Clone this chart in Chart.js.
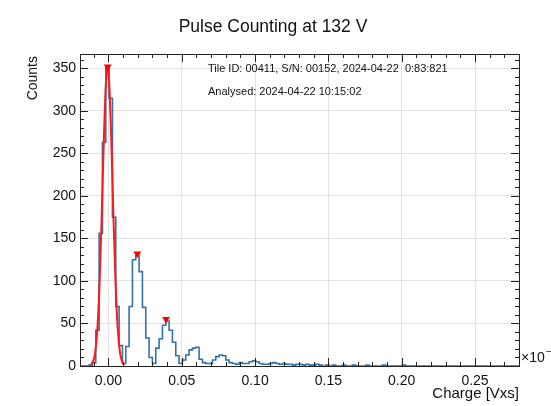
<!DOCTYPE html>
<html><head><meta charset="utf-8">
<script src="https://cdn.jsdelivr.net/npm/chart.js@4.4.1/dist/chart.umd.min.js"></script>
<style>html,body{margin:0;padding:0;background:#fff;overflow:hidden}canvas{display:block}</style>
</head><body>
<canvas id="c" width="551" height="406"></canvas>
<script>
// ---- data ----
const binLow = -0.02;          // left edge of first bin
const binWidth = 0.0022727;    // bin width
const counts = [
  0, 0, 0, 1, 4, 42, 156, 263, 352, 315,
  175, 70, 24, 3, 23, 70, 125, 130, 111, 69,
  33, 10, 3, 21, 32, 48, 53, 42, 28, 12,
  3, 7, 13, 19, 21, 22, 8, 4, 3, 3,
  7, 11, 13, 12, 7, 4, 3, 2, 4, 3,
  3, 5, 6, 5, 3, 2, 2, 3, 4, 3,
  2, 3, 2, 2, 1, 2, 2, 1, 2, 1,
  1, 2, 1, 0, 1, 0, 1, 0, 0, 1,
  0, 0, 1, 0, 0, 0, 1, 0, 0, 0,
  0, 1, 0, 0, 0, 0, 0, 1, 0, 0,
  0, 0, 0, 0, 0, 0, 0, 0, 0, 0,
  0, 0, 0, 0, 0, 0, 0, 0, 0, 0,
  0, 0, 0, 0, 0, 0, 0, 0, 0, 0,
  0, 0
];
const fitX = [-0.0120, -0.0105, -0.0090, -0.0075, -0.0060, -0.0045, -0.0030, -0.0017, -0.0006,
              0.0005, 0.0018, 0.0033, 0.0048, 0.0063, 0.0078, 0.0093, 0.0108];
const fitY = [1.3, 5.1, 16.7, 44.8, 100, 182, 274, 334, 352,
              334, 274, 182, 100, 44.8, 16.7, 5.1, 1.3];
const peakX = [-0.0005, 0.0197, 0.0393];
const peakY = [352, 132, 55];
const xTicks = [0.00, 0.05, 0.10, 0.15, 0.20, 0.25];
const yTicks = [0, 50, 100, 150, 200, 250, 300, 350];
const xRange = [-0.0194, 0.2800];
const yRange = [0, 367];
const xMinorStep = 0.01;
const yMinorStep = 10;
const titleText = 'Pulse Counting at 132 V';
const infoLines = ['Tile ID: 00411, S/N: 00152, 2024-04-22  0:83:821', 'Analysed: 2024-04-22 10:15:02'];
const xTitle = 'Charge [Vxs]';
const yTitle = 'Counts';

// ---- build datasets ----
const histPts = counts.map((c, i) => ({x: binLow + i * binWidth, y: c}));
histPts.push({x: binLow + counts.length * binWidth, y: counts[counts.length - 1]});
const fitPts = fitX.map((x, i) => ({x, y: fitY[i]}));
const peakPts = peakX.map((x, i) => ({x, y: peakY[i]}));

const FONT = '"Liberation Sans", Arial, Helvetica, sans-serif';

const rootDecor = {
  id: 'rootDecor',
  afterDraw(chart) {
    const ctx = chart.ctx, a = chart.chartArea;
    const xs = chart.scales.x, ys = chart.scales.y;
    ctx.save();
    ctx.strokeStyle = '#222';
    ctx.lineWidth = 1;
    ctx.beginPath();
    const xMaj = 8, xMin = 4, yMaj = 8, yMin = 4;
    for (let v = Math.ceil(xRange[0] / xMinorStep) * xMinorStep; v <= xRange[1] + 1e-9; v += xMinorStep) {
      const p = Math.round(xs.getPixelForValue(v)) + 0.5;
      const major = xTicks.some(t => Math.abs(t - v) < 1e-6);
      const L = major ? xMaj : xMin;
      ctx.moveTo(p, a.bottom); ctx.lineTo(p, a.bottom - L);
      ctx.moveTo(p, a.top); ctx.lineTo(p, a.top + L);
    }
    for (let v = 0; v <= yRange[1]; v += yMinorStep) {
      const p = Math.round(ys.getPixelForValue(v)) + 0.5;
      const major = yTicks.includes(v);
      const L = major ? yMaj : yMin;
      ctx.moveTo(a.left, p); ctx.lineTo(a.left + L, p);
      ctx.moveTo(a.right, p); ctx.lineTo(a.right - L, p);
    }
    ctx.stroke();
    ctx.strokeRect(Math.round(a.left) + 0.5, Math.round(a.top) + 0.5,
                   Math.round(a.right - a.left), Math.round(a.bottom - a.top));
    ctx.fillStyle = '#111';
    ctx.textBaseline = 'middle';
    ctx.textAlign = 'center';
    ctx.font = '17.5px ' + FONT;
    ctx.fillText(titleText, 273, 27);
    ctx.textAlign = 'left';
    ctx.font = '11px ' + FONT;
    ctx.fillText(infoLines[0], 208, 69);
    ctx.fillText(infoLines[1], 208, 92);
    ctx.font = '15px ' + FONT;
    ctx.textAlign = 'right';
    ctx.fillText(xTitle, a.right, 394);
    ctx.textAlign = 'left';
    ctx.font = '14px ' + FONT;
    ctx.fillText('\u00d710', a.right + 2, 358);
    ctx.font = '10px ' + FONT;
    ctx.fillText('\u22123', a.right + 27, 352);
    ctx.save();
    ctx.translate(33, a.top + 2);
    ctx.rotate(-Math.PI / 2);
    ctx.font = '14px ' + FONT;
    ctx.textAlign = 'right';
    ctx.fillText(yTitle, 0, 0);
    ctx.restore();
    ctx.restore();
  }
};

new Chart(document.getElementById('c'), {
  type: 'line',
  data: {
    datasets: [
      {
        label: 'hist', data: histPts, stepped: 'before',
        borderColor: '#3273a9', borderWidth: 1.6, pointRadius: 0, fill: false, order: 3
      },
      {
        label: 'fit', data: fitPts, cubicInterpolationMode: 'monotone',
        borderColor: '#ff1a1a', borderWidth: 2, pointRadius: 0, fill: false, order: 2
      },
      {
        label: 'peaks', data: peakPts, showLine: false,
        pointStyle: 'triangle', rotation: 180, pointRadius: 4.5,
        pointBackgroundColor: '#ff0000', pointBorderColor: '#ff0000', pointBorderWidth: 0, order: 1
      }
    ]
  },
  options: {
    responsive: false, animation: false, devicePixelRatio: 1,
    layout: {padding: {left: 0, right: 32, top: 54, bottom: 0}},
    plugins: {legend: {display: false}, tooltip: {enabled: false}, title: {display: false}},
    scales: {
      x: {
        type: 'linear', min: xRange[0], max: xRange[1],
        afterBuildTicks: s => { s.ticks = xTicks.map(v => ({value: v})); },
        afterFit: s => { s.height = 40; },
        grid: {color: '#e2e2e2', lineWidth: 1, borderDash: [1, 3], drawTicks: false},
        border: {display: false},
        ticks: {padding: 7, color: '#111', font: {family: FONT, size: 14},
                maxRotation: 0, autoSkip: false, callback: v => Number(v).toFixed(2)}
      },
      y: {
        type: 'linear', min: yRange[0], max: yRange[1],
        afterBuildTicks: s => { s.ticks = yTicks.map(v => ({value: v})); },
        afterFit: s => { s.width = 80; },
        grid: {color: '#e2e2e2', lineWidth: 1, borderDash: [1, 3], drawTicks: false},
        border: {display: false},
        ticks: {padding: 4, color: '#111', font: {family: FONT, size: 14}, autoSkip: false}
      }
    }
  },
  plugins: [rootDecor]
});
</script>
</body></html>
